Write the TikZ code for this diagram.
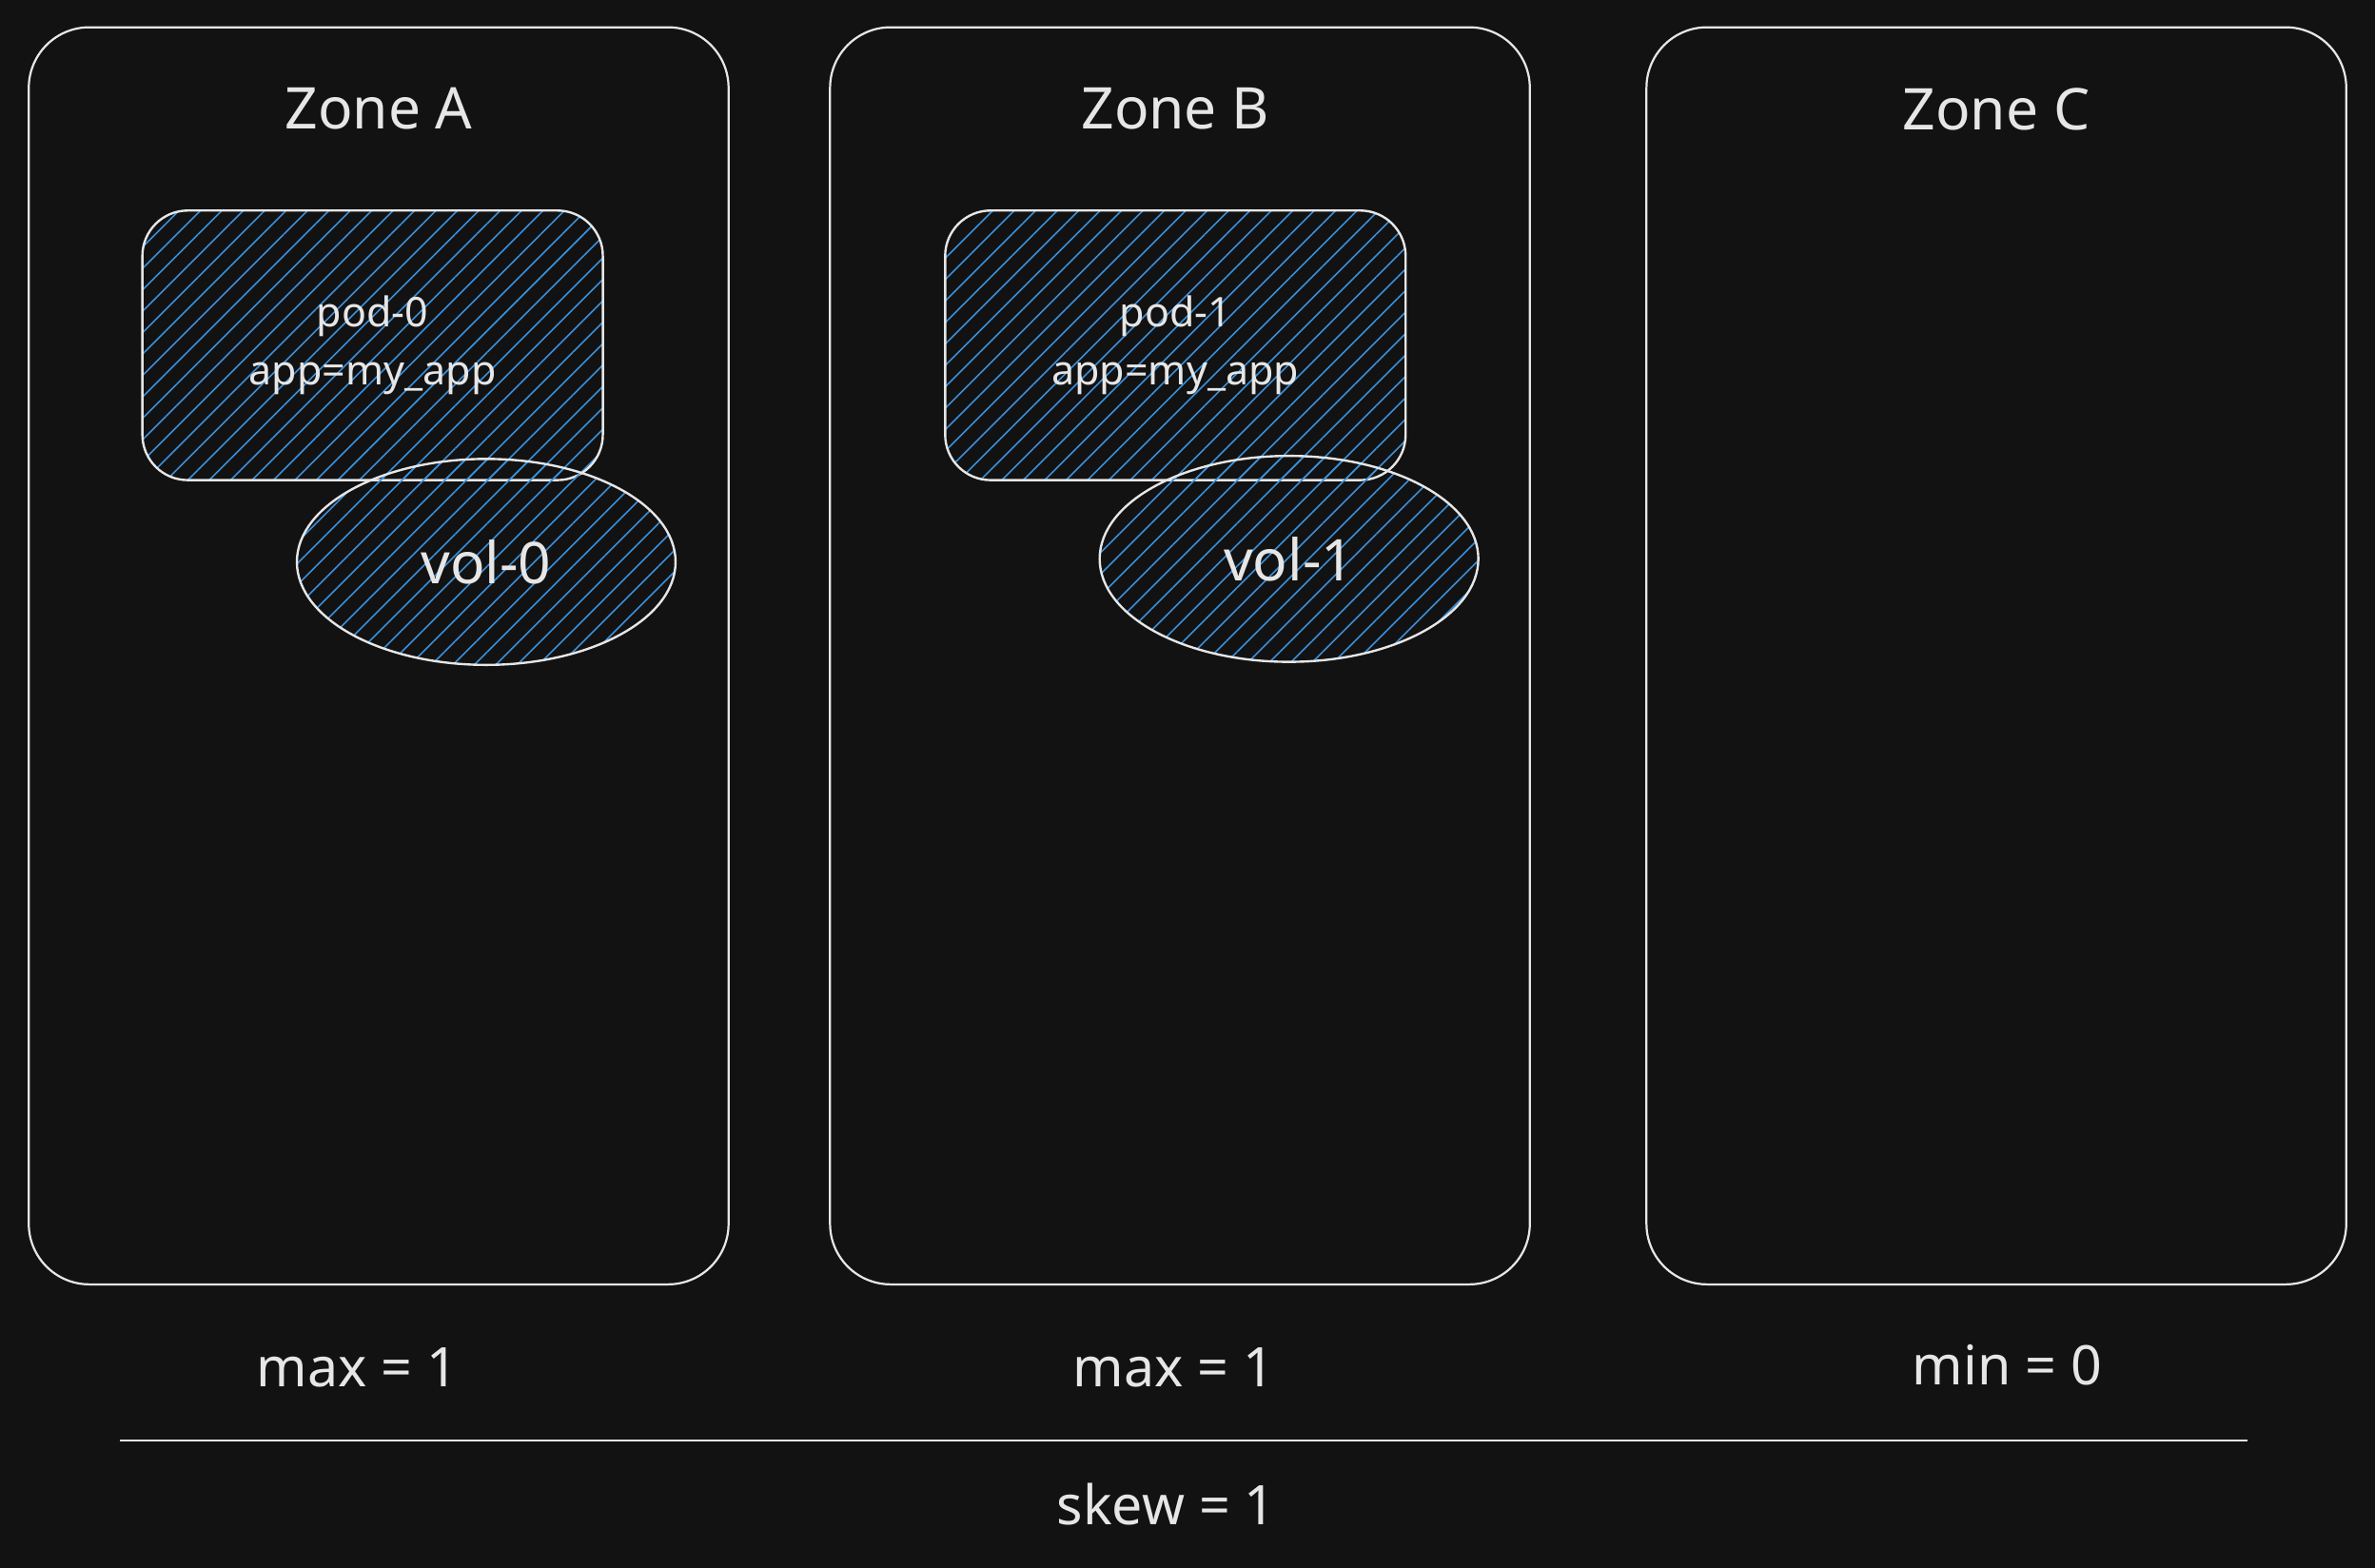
\documentclass[tikz,border=0pt]{standalone}
\usepackage{fontspec}
\setmainfont{Noto Sans}
\usetikzlibrary{shapes.geometric,patterns.meta}
\definecolor{bg}{HTML}{121212}
\definecolor{fg}{HTML}{E6E6E6}
\definecolor{hatch}{HTML}{3A8FD8}
\tikzset{
  x=1pt,y=1pt,
  zonebox/.style={draw=fg, line width=1.4pt, rounded corners=40pt, minimum width=462pt, minimum height=830pt, inner sep=0pt},
  hatched/.style={draw=fg, line width=1.5pt, pattern={Lines[angle=45,distance=10pt,line width=1pt]}, pattern color=hatch},
  podbox/.style={hatched, rounded corners=30pt, minimum width=304pt, minimum height=178pt, inner sep=0pt, align=center, font=\fontsize{27}{38}\selectfont, text=fg},
  volbox/.style={hatched, ellipse, minimum width=250pt, minimum height=136pt, inner sep=0pt, font=\fontsize{38}{44}\selectfont, text=fg},
  title/.style={text=fg, font=\fontsize{38}{44}\selectfont},
  label/.style={text=fg, font=\fontsize{36}{42}\selectfont},
}
\begin{document}
\begin{tikzpicture}
\fill[bg] (0,0) rectangle (1568,-1035);
\useasboundingbox (0,0) rectangle (1568,-1035);
% zones
\node[zonebox] (zA) at (250,-433) {};
\node[zonebox] (zB) at (779,-433) {};
\node[zonebox] (zC) at (1318,-433) {};
\node[title] (tA) at (250,-72) {Zone A};
\node[title] (tB) at (776,-72) {Zone B};
\node[title] (tC) at (1318,-72) {Zone C};
% pods
\node[podbox] (p0) at (246,-228) {pod-0\\app=my\_app};
\node[podbox] (p1) at (776,-228) {pod-1\\app=my\_app};
% volumes
\node[volbox] (v0) at (321,-371) {vol-0};
\node[volbox] (v1) at (851,-369) {vol-1};
% labels
\node[label] (mA) at (236,-903) {max = 1};
\node[label] (mB) at (775,-903) {max = 1};
\node[label] (mC) at (1325,-901) {min = 0};
\coordinate (l1) at (79,-951);
\coordinate (l2) at (1484,-951);
\draw[fg, line width=1.4pt] (l1) -- (l2);
\node[label] (sk) at (770,-993) {skew = 1};
\end{tikzpicture}
\end{document}
